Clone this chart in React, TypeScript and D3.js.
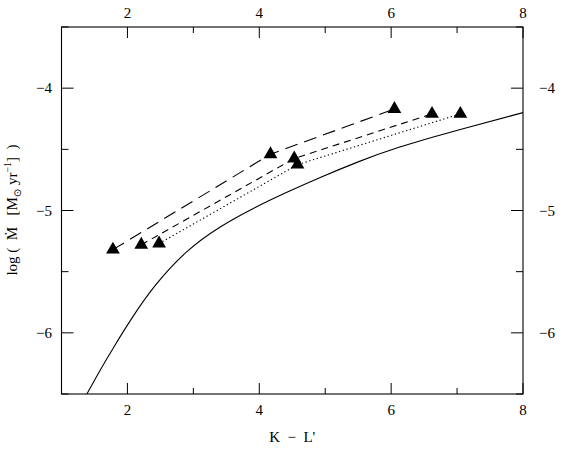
import React from "react";
import * as d3 from "d3";

const longDashX = [1.78, 4.17, 6.05];
const longDashY = [-5.32, -4.54, -4.17];
const shortDashX = [2.21, 4.53, 6.62];
const shortDashY = [-5.28, -4.575, -4.21];
const dottedX = [2.48, 4.58, 7.05];
const dottedY = [-5.27, -4.625, -4.21];

const curveX = [1.385, 1.6, 1.8, 2.04, 2.39, 2.9, 3.4, 3.91, 4.42, 4.92, 5.5, 6.08, 6.89, 8.0];
const curveY = [-6.5, -6.29, -6.11, -5.9, -5.62, -5.32, -5.13, -4.98, -4.85, -4.73, -4.6, -4.485, -4.36, -4.2];

const xMajor = [2, 4, 6, 8];
const xMinor = [1, 3, 5, 7];
const yMajor = [-6, -5, -4];
const yMinor = [-6.5, -5.5, -4.5, -3.5];

const W = 570, H = 452;
const L = 61.5, R = 523, T = 27, B = 394;

export default function App() {
  const x = d3.scaleLinear().domain([1, 8]).range([L, R]);
  const y = d3.scaleLinear().domain([-6.5, -3.5]).range([B, T]);
  const line = d3.line<[number, number]>().x(d => x(d[0])).y(d => y(d[1]));
  const curveLine = d3.line<[number, number]>().x(d => x(d[0])).y(d => y(d[1])).curve(d3.curveBasis);
  const zip = (a: number[], b: number[]) => a.map((v, i) => [v, b[i]] as [number, number]);
  const tri = d3.symbol().type(d3.symbolTriangle).size(82)()!;
  const series = [
    { xs: longDashX, ys: longDashY, dash: "13,7" },
    { xs: shortDashX, ys: shortDashY, dash: "7,5" },
    { xs: dottedX, ys: dottedY, dash: "1.3,2.6" },
  ];
  const font = "'Liberation Serif', 'DejaVu Serif', serif";
  const fmt = (v: number) => (v < 0 ? "\u2212" + Math.abs(v) : String(v));
  return (
    <svg width={W} height={H} style={{ position: "absolute", left: 0, top: 0, background: "#fff" }}>
      <rect x={0} y={0} width={W} height={H} fill="#fff" />
      <clipPath id="clip">
        <rect x={L} y={T} width={R - L} height={B - T} />
      </clipPath>
      <g clipPath="url(#clip)">
        <path d={curveLine(zip(curveX, curveY))!} fill="none" stroke="#000" strokeWidth={1.1} />
        {series.map((s, i) => (
          <path key={i} d={line(zip(s.xs, s.ys))!} fill="none" stroke="#000" strokeWidth={1.1} strokeDasharray={s.dash} />
        ))}
        {series.map((s, i) =>
          s.xs.map((xv, j) => (
            <path key={`${i}-${j}`} d={tri} transform={`translate(${x(xv)},${y(s.ys[j])})`} fill="#000" />
          ))
        )}
      </g>
      <rect x={L} y={T} width={R - L} height={B - T} fill="none" stroke="#000" strokeWidth={1.1} />
      {xMajor.map(v => (
        <g key={`xM${v}`}>
          <line x1={x(v)} x2={x(v)} y1={B} y2={B - 11} stroke="#000" />
          <line x1={x(v)} x2={x(v)} y1={T} y2={T + 11} stroke="#000" />
          <text x={x(v)} y={415} textAnchor="middle" fontFamily={font} fontSize={15}>{fmt(v)}</text>
          <text x={x(v)} y={18} textAnchor="middle" fontFamily={font} fontSize={15}>{fmt(v)}</text>
        </g>
      ))}
      {xMinor.map(v => (
        <g key={`xm${v}`}>
          <line x1={x(v)} x2={x(v)} y1={B} y2={B - 6} stroke="#000" />
          <line x1={x(v)} x2={x(v)} y1={T} y2={T + 6} stroke="#000" />
        </g>
      ))}
      {yMajor.map(v => (
        <g key={`yM${v}`}>
          <line x1={L} x2={L + 12} y1={y(v)} y2={y(v)} stroke="#000" />
          <line x1={R} x2={R - 12} y1={y(v)} y2={y(v)} stroke="#000" />
          <text x={52} y={y(v) + 5} textAnchor="end" fontFamily={font} fontSize={15}>{fmt(v)}</text>
          <text x={539} y={y(v) + 5} textAnchor="start" fontFamily={font} fontSize={15}>{fmt(v)}</text>
        </g>
      ))}
      {yMinor.map(v => (
        <g key={`ym${v}`}>
          <line x1={L} x2={L + 7} y1={y(v)} y2={y(v)} stroke="#000" />
          <line x1={R} x2={R - 7} y1={y(v)} y2={y(v)} stroke="#000" />
        </g>
      ))}
      <text x={(L + R) / 2} y={442} textAnchor="middle" fontFamily={font} fontSize={15}>
        {"K\u00a0\u00a0\u2212\u00a0\u00a0L'"}
      </text>
      <text transform="translate(17,210) rotate(-90)" textAnchor="middle" fontFamily={font} fontSize={15}>
        {"log\u00a0(\u00a0\u00a0\u1E40\u00a0\u00a0\u00a0[M"}
        <tspan fontSize={10} dy={4} fontFamily="'DejaVu Sans', sans-serif">{"\u2299"}</tspan>
        <tspan dy={-4}>{"\u00a0yr"}</tspan>
        <tspan fontSize={10} dy={-6}>{"\u22121"}</tspan>
        <tspan dy={6}>{"]\u00a0\u00a0)"}</tspan>
      </text>
    </svg>
  );
}
